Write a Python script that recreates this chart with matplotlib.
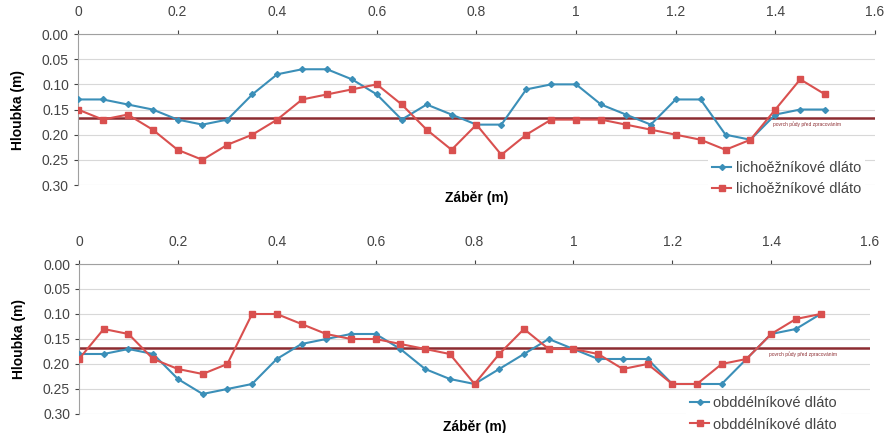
import matplotlib
matplotlib.use('Agg')
import matplotlib.pyplot as plt
import numpy as np

plt.rcParams['font.family'] = ['Liberation Sans', 'DejaVu Sans']

# zaber (m)
x = [0.00, 0.05, 0.10, 0.15, 0.20, 0.25, 0.30, 0.35, 0.40, 0.45, 0.50,
     0.55, 0.60, 0.65, 0.70, 0.75, 0.80, 0.85, 0.90, 0.95, 1.00, 1.05,
     1.10, 1.15, 1.20, 1.25, 1.30, 1.35, 1.40, 1.45, 1.50]

# horni graf - lichobeznikove dlato
top_blue = [0.13, 0.13, 0.14, 0.15, 0.17, 0.18, 0.17, 0.12, 0.08, 0.07, 0.07,
            0.09, 0.12, 0.17, 0.14, 0.16, 0.18, 0.18, 0.11, 0.10, 0.10, 0.14,
            0.16, 0.18, 0.13, 0.13, 0.20, 0.21, 0.16, 0.15, 0.15]
top_red = [0.15, 0.17, 0.16, 0.19, 0.23, 0.25, 0.22, 0.20, 0.17, 0.13, 0.12,
           0.11, 0.10, 0.14, 0.19, 0.23, 0.18, 0.24, 0.20, 0.17, 0.17, 0.17,
           0.18, 0.19, 0.20, 0.21, 0.23, 0.21, 0.15, 0.09, 0.12]

# dolni graf - obdelnikove dlato
bot_blue = [0.18, 0.18, 0.17, 0.18, 0.23, 0.26, 0.25, 0.24, 0.19, 0.16, 0.15,
            0.14, 0.14, 0.17, 0.21, 0.23, 0.24, 0.21, 0.18, 0.15, 0.17, 0.19,
            0.19, 0.19, 0.24, 0.24, 0.24, 0.19, 0.14, 0.13, 0.10]
bot_red = [0.19, 0.13, 0.14, 0.19, 0.21, 0.22, 0.20, 0.10, 0.10, 0.12, 0.14,
           0.15, 0.15, 0.16, 0.17, 0.18, 0.24, 0.18, 0.13, 0.17, 0.17, 0.18,
           0.21, 0.20, 0.24, 0.24, 0.20, 0.19, 0.14, 0.11, 0.10]

surface = [0.167, 0.168]
labels = ['lichoěžníkové dláto', 'obddélníkové dláto']
surface_text = 'povrch půdy před zpracováním'

xticks = [0, 0.2, 0.4, 0.6, 0.8, 1.0, 1.2, 1.4, 1.6]
xticklabels = ['0', '0.2', '0.4', '0.6', '0.8', '1', '1.2', '1.4', '1.6']
yticks = [0.00, 0.05, 0.10, 0.15, 0.20, 0.25, 0.30]

BLUE = '#3b8fb8'
RED = '#d9504f'
LINE = '#8c2c31'
GRAY = '#a0a0a0'

fig = plt.figure(figsize=(8.94, 4.33), dpi=100)

panels = [
    ([0.0872, 0.5727, 0.8915, 0.3487], top_blue, top_red, surface[0], labels[0], (0.792, 0.638)),
    ([0.0884, 0.0439, 0.8848, 0.3464], bot_blue, bot_red, surface[1], labels[1], (0.767, 0.095)),
]

for rect, blue, red, surf, lab, leg_pos in panels:
    ax = fig.add_axes(rect)
    ax.set_xlim(0, 1.6)
    ax.set_ylim(0.30, 0.0)
    ax.xaxis.tick_top()
    ax.set_xticks(xticks)
    ax.set_xticklabels(xticklabels)
    ax.set_yticks(yticks)
    ax.set_yticklabels([f'{v:.2f}' for v in yticks])
    ax.tick_params(colors='#444444', labelsize=10, length=3, width=0.8)
    ax.tick_params(axis='x', pad=8)
    for s in ['right', 'bottom']:
        ax.spines[s].set_visible(False)
    for s in ['top', 'left']:
        ax.spines[s].set_color(GRAY)
    ax.grid(axis='y', color='#d8d8d8', linewidth=0.8)
    ax.set_axisbelow(True)

    ax.axhline(surf, color=LINE, linewidth=1.8, zorder=2)
    ax.plot(x, blue, color=BLUE, linewidth=1.5, marker='D', markersize=3,
            label=lab, zorder=3)
    ax.plot(x, red, color=RED, linewidth=1.5, marker='s', markersize=4,
            label=lab, zorder=3)
    ax.text(1.395, surf + 0.012, surface_text, color=LINE, fontsize=3.5,
            va='center', ha='left')

    ax.set_ylabel('Hloubka (m)', fontweight='bold', fontsize=10, labelpad=12)
    ax.text(0.50, -0.04, 'Záběr (m)', transform=ax.transAxes,
            fontweight='bold', fontsize=10, ha='center', va='top')

    leg = ax.legend(loc='upper left', bbox_to_anchor=leg_pos,
                    bbox_transform=fig.transFigure, borderaxespad=0,
                    frameon=True, fontsize=10.5, handlelength=1.3,
                    handletextpad=0.3, labelspacing=0.5, borderpad=0.3,
                    labelcolor='#444444', fancybox=False)
    leg.get_frame().set_edgecolor('none')
    leg.get_frame().set_facecolor('white')
    leg.get_frame().set_alpha(1)
    leg.set_zorder(5)

fig.savefig('out.png', dpi=100)
